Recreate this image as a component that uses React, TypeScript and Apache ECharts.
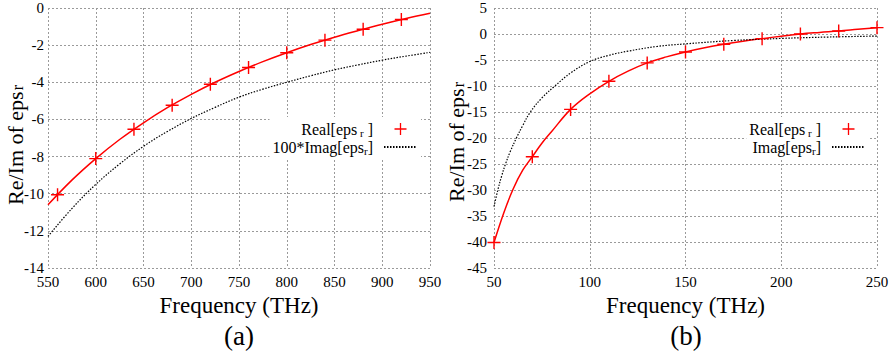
import React, { useEffect, useRef } from "react";
import * as echarts from "echarts";

// ---------- Panel (a) ----------
const freqLineA = [550, 575, 600, 625, 650, 675, 700, 725, 750, 775, 800, 825, 850, 875, 900, 925, 950];
const realLineA = [-10.6, -9.27, -8.11, -7.08, -6.18, -5.37, -4.65, -4.0, -3.42, -2.89, -2.41, -1.97, -1.57, -1.21, -0.87, -0.56, -0.28];
const imagLineA = [-12.3, -10.8, -9.5, -8.4, -7.45, -6.65, -5.95, -5.35, -4.8, -4.37, -4.0, -3.65, -3.33, -3.06, -2.81, -2.59, -2.39];
const freqMarkA = [560, 600, 640, 680, 720, 760, 800, 840, 880, 920];
const realMarkA = [-10.06, -8.11, -6.53, -5.24, -4.11, -3.2, -2.41, -1.73, -1.14, -0.62];

// ---------- Panel (b) ----------
const freqLineB = [50, 55, 60, 65, 70, 75, 80, 90, 100, 110, 120, 130, 140, 150, 160, 170, 180, 190, 200, 210, 220, 230, 240, 250];
const realLineB = [-40.1, -34.5, -29.8, -26.2, -23.6, -21.0, -18.8, -14.5, -11.5, -9.1, -7.15, -5.56, -4.4, -3.45, -2.65, -1.98, -1.4, -0.89, -0.42, 0.0, 0.3, 0.57, 0.9, 1.22];
const freqImagB = [50, 52, 54, 56, 58.5, 61.7, 65, 69, 75, 81.8, 90, 100, 110, 120, 135, 150, 175, 200, 225, 250];
const imagLineB = [-33.2, -30, -27.3, -25, -22.6, -20, -17.6, -15, -12.3, -10, -7.5, -5.3, -4.1, -3.3, -2.4, -1.9, -1.25, -0.85, -0.58, -0.4];
const freqMarkB = [50, 70, 90, 110, 130, 150, 170, 190, 210, 230, 250];
const realMarkB = [-40.1, -23.6, -14.5, -9.1, -5.56, -3.45, -1.98, -0.89, 0.0, 0.57, 1.22];

const FONT = "Liberation Serif";
const PLUS = "path://M0,5.35H12V6.65H0Z M5.35,0H6.65V12H5.35Z";
const GRID_LINE = { color: "#9a9a9a", type: [2, 2] as any, width: 1 };
const HIDDEN_ITEM = { color: "rgba(0,0,0,0)", borderWidth: 0, opacity: 0 };

const legendLabels: Record<string, string> = {
  realA: "{t|Real[eps}{s| r}{t| ]}",
  imagA: "{t|100*Imag[eps}{s|r}{t|]}",
  realB: "{t|Real[eps}{s| r}{t| ]}",
  imagB: "{t|Imag[eps}{s|r}{t|]}",
};

const zip = (xs: number[], ys: number[]) => xs.map((x, i) => [x, ys[i]]);

export default function App() {
  const ref = useRef<HTMLDivElement>(null);

  useEffect(() => {
    if (!ref.current) return;
    const chart = echarts.init(ref.current, undefined, { renderer: "svg" });

    const xName = {
      name: "Frequency (THz)",
      nameLocation: "middle" as const,
      nameGap: 20,
      nameTextStyle: { color: "#000", fontFamily: FONT, fontSize: 23 },
    };

    const axisLabel = (margin: number) => ({
      color: "#000",
      fontFamily: FONT,
      fontSize: 15,
      margin,
    });

    const legendCommon = {
      orient: "vertical" as const,
      align: "right" as const,
      selectedMode: false,
      itemWidth: 33,
      itemHeight: 12,
      itemGap: 0,
      backgroundColor: "#fff",
      padding: [3, 3, 3, 3],
      formatter: (n: string) => legendLabels[n] || n,
      textStyle: {
        color: "#000",
        fontFamily: FONT,
        fontSize: 16,
        padding: [0, 6, 0, 0],
        rich: {
          t: { fontFamily: FONT, fontSize: 16, lineHeight: 18, color: "#000" },
          s: { fontFamily: FONT, fontSize: 11, lineHeight: 12, color: "#000", padding: [7, 0, 0, 0] },
        },
      },
    };

    const dotted = (xi: number, xs: number[], ys: number[], name: string) => ({
      name,
      type: "line",
      xAxisIndex: xi,
      yAxisIndex: xi,
      data: zip(xs, ys),
      smooth: 0.4,
      showSymbol: false,
      symbol: "none",
      itemStyle: HIDDEN_ITEM,
      lineStyle: { color: "#000", width: 1.2, type: [1.5, 1.5] },
      z: 3,
    });

    const redLine = (xi: number, xs: number[], ys: number[], name: string) => ({
      name,
      type: "line",
      xAxisIndex: xi,
      yAxisIndex: xi,
      data: zip(xs, ys),
      smooth: 0.4,
      showSymbol: false,
      symbol: "none",
      lineStyle: { color: "#ff0000", width: 1.5 },
      z: 3,
    });

    const marks = (xi: number, xs: number[], ys: number[], name: string) => ({
      name,
      type: "scatter",
      xAxisIndex: xi,
      yAxisIndex: xi,
      data: zip(xs, ys),
      symbol: PLUS,
      symbolSize: 13,
      symbolKeepAspect: true,
      itemStyle: { color: "#ff0000", opacity: 1 },
      z: 4,
    });

    const axisCommon = {
      axisLine: { show: false },
      axisTick: { show: false },
      splitLine: { show: true, lineStyle: GRID_LINE },
    };

    const yLabel = (x: number, y: number) => ({
      type: "text",
      x,
      y,
      rotation: Math.PI / 2,
      style: {
        text: "{a|Re/Im of eps}{b|r}",
        fontFamily: FONT,
        fontSize: 22,
        fill: "#000",
        align: "center",
        verticalAlign: "middle",
        rich: {
          a: { fontFamily: FONT, fontSize: 22, fill: "#000" },
          b: { fontFamily: FONT, fontSize: 16, fill: "#000", padding: [4, 0, 0, 1] },
        },
      },
    });

    const caption = (x: number, text: string) => ({
      type: "text",
      x,
      y: 336,
      style: { text, fontFamily: FONT, fontSize: 27, fill: "#000", align: "center", verticalAlign: "middle" },
    });

    chart.setOption({
      animation: false,
      backgroundColor: "#fff",
      textStyle: { fontFamily: FONT, color: "#000" },
      grid: [
        { left: 48, top: 8, width: 382, height: 260 },
        { left: 494, top: 8, width: 383, height: 260 },
      ],
      xAxis: [
        { type: "value", gridIndex: 0, min: 550, max: 950, interval: 50, ...xName, ...axisCommon, axisLabel: axisLabel(6) },
        { type: "value", gridIndex: 1, min: 50, max: 250, interval: 50, ...xName, ...axisCommon, axisLabel: axisLabel(6) },
      ],
      yAxis: [
        { type: "value", gridIndex: 0, min: -14, max: 0, interval: 2, ...axisCommon, axisLabel: axisLabel(4) },
        { type: "value", gridIndex: 1, min: -45, max: 5, interval: 5, ...axisCommon, axisLabel: axisLabel(7) },
      ],
      legend: [
        { ...legendCommon, data: ["realA", "imagA"], right: 472, top: 117 },
        { ...legendCommon, data: ["realB", "imagB"], right: 24, top: 117 },
      ],
      series: [
        redLine(0, freqLineA, realLineA, "realLineA"),
        dotted(0, freqLineA, imagLineA, "imagA"),
        marks(0, freqMarkA, realMarkA, "realA"),
        redLine(1, freqLineB, realLineB, "realLineB"),
        dotted(1, freqImagB, imagLineB, "imagB"),
        marks(1, freqMarkB, realMarkB, "realB"),
      ],
      graphic: [
        yLabel(15, 145),
        yLabel(456, 142),
        caption(239, "(a)"),
        caption(686, "(b)"),
      ],
    });

    return () => chart.dispose();
  }, []);

  return (
    <div
      ref={ref}
      style={{ position: "fixed", left: 0, top: 0, width: 893, height: 352, background: "#fff" }}
    />
  );
}
